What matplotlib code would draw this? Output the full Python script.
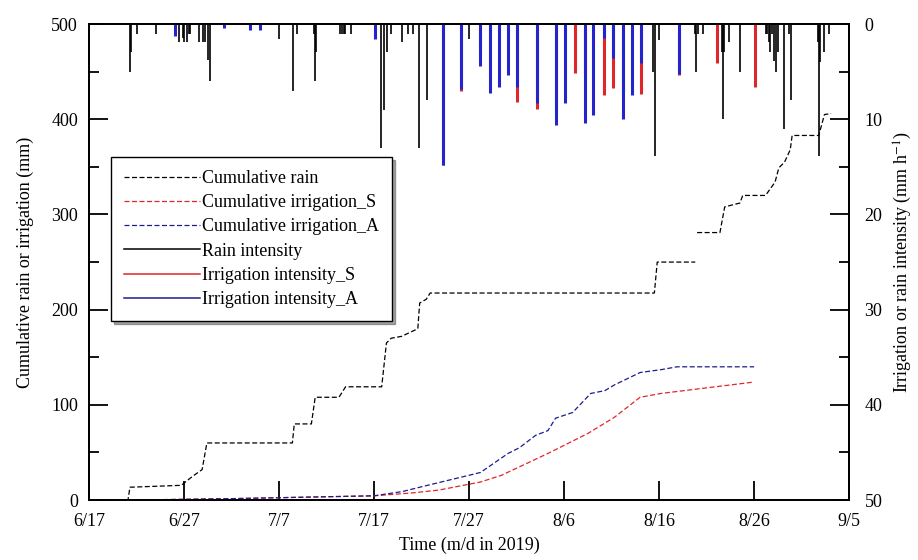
import numpy as np
import matplotlib
matplotlib.use("Agg")
import matplotlib.pyplot as plt
from matplotlib.ticker import MultipleLocator
from matplotlib.lines import Line2D

plt.rcParams['font.family'] = ['Liberation Serif', 'DejaVu Serif']
plt.rcParams['mathtext.fontset'] = 'stix'

# ---- data (x = days since 6/17/2019) ----
tick_days = [0, 10, 20, 30, 40, 50, 60, 70, 80]
tick_labels = ["6/17", "6/27", "7/7", "7/17", "7/27", "8/6", "8/16", "8/26", "9/5"]

rain_cum_day = [2.3, 4.1, 4.3, 9.7, 10.9, 11.9, 12.4, 21.4, 21.6, 23.4, 23.8, 26.3, 27.0,
                30.8, 31.3, 31.8, 32.9, 34.6, 34.8, 35.5, 35.9, 59.5, 59.8, 63.8, 63.9,
                64.0, 66.4, 66.9, 68.5, 68.8, 71.2, 72.2, 72.6, 73.2, 73.8, 74.0, 76.8,
                77.4, 78.1]
rain_cum = [0, 0, 13.5, 15.5, 25, 32, 60, 60, 80, 80, 108, 108, 119,
            119, 165, 170, 172, 180, 207, 211, 217.5, 217.5, 250, 250, np.nan,
            281, 281, 308, 312, 320, 320, 334, 349, 355, 368, 383, 383,
            405, 406]

irr_A_cum_day = [2.3, 8, 15, 20, 25, 30, 33, 35, 37.9, 41.2, 44.1, 45.3, 47.0, 48.3,
                 49.1, 50.9, 52.8, 54.3, 55.3, 58.0, 60.2, 61.9, 70.0]
irr_A_cum = [0, 0.5, 1.5, 2.5, 3.5, 4.5, 9, 14, 21, 29, 49, 55, 68, 73,
             86, 92, 112, 115, 121, 134, 137, 140, 140]

irr_S_cum_day = [2.3, 8, 15, 20, 25, 30, 34, 36.8, 37.9, 41.2, 43.4, 48.3, 49.7,
                 52.5, 55.3, 58.0, 60.2, 70.0]
irr_S_cum = [0, 0.5, 1.5, 2.5, 3.5, 4.5, 7.5, 10.5, 12.6, 19, 26, 49, 56,
             70, 87, 108, 112, 124]

rain_int_day = [4.26, 4.4, 5.0, 7.09, 9.51, 9.9, 10.03, 10.31, 10.47, 10.58, 11.54, 11.96,
                12.24, 12.55, 12.73, 19.97, 21.44, 21.89, 23.64, 23.75, 23.85, 26.44,
                26.58, 26.79, 26.97, 27.6, 30.74, 31.06, 31.33, 31.75, 32.98, 33.61,
                34.13, 34.76, 35.53, 40.01, 50.05, 59.4, 59.56, 60.02, 63.73, 63.86,
                64.04, 64.64, 66.57, 66.72, 66.87, 67.37, 68.48, 71.21, 71.39, 71.6,
                71.7, 71.9, 72.1, 72.3, 72.5, 73.14, 73.7, 73.83, 76.69, 76.81, 76.9,
                77.34, 77.86]
rain_int = [5.0, 2.9, 1.0, 1.0, 1.9, 1.5, 1.9, 1.9, 1.0, 1.0, 1.9, 1.9,
            1.9, 3.8, 6.0, 1.6, 7.0, 1.0, 1.0, 6.0, 2.9, 1.0,
            1.0, 1.0, 1.0, 1.0, 13.0, 9.0, 2.9, 1.0, 1.9, 1.0,
            1.0, 13.0, 8.0, 1.6, 1.6, 5.0, 13.9, 1.7, 1.0, 5.0,
            1.0, 1.0, 2.9, 10.0, 2.9, 1.9, 5.0, 1.0, 1.0, 1.9,
            2.9, 1.0, 3.9, 5.0, 2.9, 11.0, 1.0, 8.0, 1.9, 13.9, 4.0,
            2.9, 1.0]

irr_S_int_day = [37.21, 39.1, 41.13, 45.08, 47.15, 49.17, 51.1, 52.15, 54.15, 55.13,
                 56.24, 58.09, 62.04, 66.04, 70.1]
irr_S_int = [14.8, 7.0, 2.7, 8.2, 8.9, 8.5, 5.1, 5.4, 7.4, 6.7,
             7.1, 7.3, 5.3, 4.1, 6.6]

irr_A_int_day = [9.0, 14.2, 16.9, 18.0, 30.1, 37.21, 39.1, 41.13, 42.25, 43.16, 44.1,
                 45.08, 47.15, 49.17, 50.05, 52.15, 53.04, 54.15, 55.13, 56.24, 57.11,
                 58.09, 62.04]
irr_A_int = [1.2, 0.4, 0.6, 0.6, 1.6, 14.8, 6.8, 4.4, 7.2, 6.6, 5.4,
             6.6, 8.3, 10.6, 8.3, 10.4, 9.6, 1.5, 3.6, 10.0, 7.5,
             4.1, 5.2]

RED = '#e0262b'
BLUE = '#2424cc'
NAVY = '#1c1c8c'

fig = plt.figure(figsize=(9.18, 5.6), dpi=100)
ax = fig.add_axes([0.097, 0.107, 0.828, 0.85])
ax2 = ax.twinx()

# intensity bars (right axis, inverted)
ax2.vlines(rain_int_day, 0, rain_int, color='black', lw=1.2)
ax2.vlines(irr_S_int_day, 0, irr_S_int, color=RED, lw=2.2)
ax2.vlines(irr_A_int_day, 0, irr_A_int, color=BLUE, lw=2.2)
ax2.set_ylim(50, 0)

# cumulative lines (left axis)
dash = (4, 2)
l1, = ax.plot(rain_cum_day, rain_cum, color='black', lw=0.9, dashes=dash)
l2, = ax.plot(irr_S_cum_day, irr_S_cum, color=RED, lw=0.9, dashes=dash)
l3, = ax.plot(irr_A_cum_day, irr_A_cum, color=NAVY, lw=0.9, dashes=dash)
ax.set_ylim(0, 500)
ax.set_xlim(0, 80)

ax.set_zorder(ax2.get_zorder() + 1)
ax.patch.set_visible(False)

ax.set_xticks(tick_days)
ax.set_xticklabels(tick_labels)
ax.yaxis.set_major_locator(MultipleLocator(100))
ax.yaxis.set_minor_locator(MultipleLocator(50))
ax2.yaxis.set_major_locator(MultipleLocator(10))
ax2.yaxis.set_minor_locator(MultipleLocator(5))

fs = 13
ax.tick_params(axis='x', direction='in', length=14, width=1.3, top=False, labelsize=fs, pad=9)
ax.tick_params(axis='y', which='major', direction='in', length=14, width=1.3, labelsize=fs, pad=8)
ax.tick_params(axis='y', which='minor', direction='in', length=7, width=1.3)
ax2.tick_params(axis='y', which='major', direction='in', length=14, width=1.3, labelsize=fs, pad=11)
ax2.tick_params(axis='y', which='minor', direction='in', length=7, width=1.3)
for a in (ax, ax2):
    for s in a.spines.values():
        s.set_linewidth(1.3)

ax.set_xlabel("Time (m/d in 2019)", fontsize=fs, labelpad=5)
ax.set_ylabel("Cumulative rain or irrigation (mm)", fontsize=fs, labelpad=12)
ax2.set_ylabel("Irrigation or rain intensity (mm h$^{-1}$)", fontsize=fs, labelpad=7)

h4 = Line2D([], [], color='black', lw=1.1)
h5 = Line2D([], [], color=RED, lw=1.1)
h6 = Line2D([], [], color=NAVY, lw=1.1)
leg = ax.legend([l1, l2, l3, h4, h5, h6],
                ["Cumulative rain", "Cumulative irrigation_S", "Cumulative irrigation_A",
                 "Rain intensity", "Irrigation intensity_S", "Irrigation intensity_A"],
                loc='upper left', bbox_to_anchor=(0.029, 0.72), fontsize=13,
                fancybox=False, shadow=True, edgecolor='black', framealpha=1,
                handlelength=4.2, handletextpad=0.15, labelspacing=0.4,
                borderpad=0.7, borderaxespad=0)
leg.get_frame().set_linewidth(1.0)

fig.savefig("out.png", dpi=100)
